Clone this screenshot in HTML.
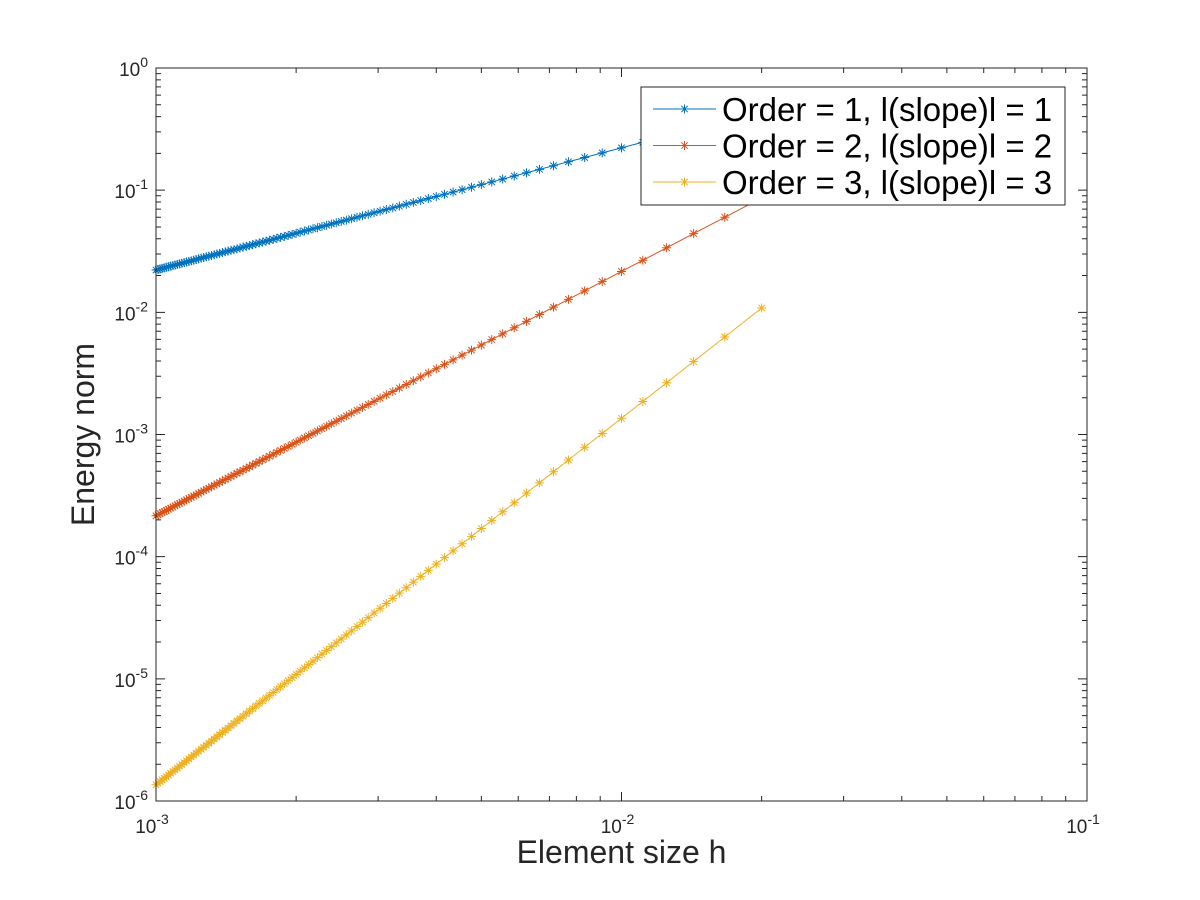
<!DOCTYPE html>
<html><head><meta charset="utf-8"><style>
html,body{margin:0;padding:0;background:#fff;}
svg{display:block;font-family:"Liberation Sans",Arial,sans-serif;}
</style></head><body>
<svg id="chart" width="1200" height="900" viewBox="0 0 1200 900" xmlns="http://www.w3.org/2000/svg">
<rect x="0" y="0" width="1200" height="900" fill="#fff"/>
<g id="marks"></g>
<g id="axes"></g>
<g id="legend"></g>
</svg>
<script>
// number of elements (h = 1/N)
const elements = [50,60,70,80,90,100,110,120,130,140,150,160,170,180,190,200,210,220,230,240,250,260,270,280,290,300,310,320,330,340,350,360,370,380,390,400,410,420,430,440,450,460,470,480,490,500,510,520,530,540,550,560,570,580,590,600,610,620,630,640,650,660,670,680,690,700,710,720,730,740,750,760,770,780,790,800,810,820,830,840,850,860,870,880,890,900,910,920,930,940,950,960,970,980,990,1000];
const order1 = [0.444,0.370,0.317,0.2775,0.2467,0.222,0.2018,0.185,0.1708,0.1586,0.148,0.1388,0.1306,0.1233,0.1168,0.111,0.1057,0.1009,0.0965,0.0925,0.0888,0.0854,0.0822,0.0793,0.0766,0.074,0.0716,0.0694,0.0673,0.0653,0.0634,0.0617,0.06,0.0584,0.0569,0.0555,0.0541,0.0529,0.0516,0.0505,0.0493,0.0483,0.0472,0.0463,0.0453,0.0444,0.0435,0.0427,0.0419,0.0411,0.0404,0.0396,0.0389,0.0383,0.0376,0.037,0.0364,0.0358,0.0352,0.0347,0.0342,0.0336,0.0331,0.0326,0.0322,0.0317,0.0313,0.0308,0.0304,0.03,0.0296,0.0292,0.0288,0.0285,0.0281,0.0278,0.0274,0.0271,0.0267,0.0264,0.0261,0.0258,0.0255,0.0252,0.0249,0.0247,0.0244,0.0241,0.0239,0.0236,0.0234,0.0231,0.0229,0.0227,0.0224,0.0222];
const order2 = [0.0864,0.06,0.0441,0.03375,0.02667,0.0216,0.01785,0.015,0.01278,0.01102,0.0096,0.00844,0.00747,0.00667,0.00598,0.0054,0.0049,0.00446,0.00408,0.00375,0.003456,0.003195,0.002963,0.002755,0.002568,0.0024,0.002248,0.002109,0.001983,0.001869,0.001763,0.001667,0.001578,0.001496,0.00142,0.00135,0.001285,0.001224,0.001168,0.001116,0.001067,0.001021,0.000978,0.0009375,0.0009,0.000864,0.00083,0.000799,0.000769,0.000741,0.000714,0.000689,0.000665,0.000642,0.000621,0.0006,0.00058,0.000562,0.000544,0.000527,0.000511,0.000496,0.000481,0.000467,0.000454,0.000441,0.000428,0.000417,0.000405,0.000394,0.000384,0.000374,0.000364,0.000355,0.000346,0.0003375,0.000329,0.000321,0.000314,0.000306,0.000299,0.000292,0.000285,0.000279,0.000273,0.000267,0.000261,0.000255,0.00025,0.000244,0.000239,0.000234,0.00023,0.000225,0.00022,0.000216];
const order3 = [0.01086,0.006287,0.003959,0.002652,0.001863,0.001358,0.00102,0.000786,0.000618,0.000495,0.000402,0.000332,0.000276,0.000233,0.000198,0.00017,0.0001466,0.0001275,0.0001116,9.82e-5,8.69e-5,7.73e-5,6.9e-5,6.19e-5,5.57e-5,5.03e-5,4.56e-5,4.14e-5,3.78e-5,3.46e-5,3.17e-5,2.91e-5,2.68e-5,2.47e-5,2.29e-5,2.12e-5,1.97e-5,1.833e-5,1.708e-5,1.594e-5,1.49e-5,1.395e-5,1.308e-5,1.228e-5,1.154e-5,1.086e-5,1.024e-5,9.66e-6,9.12e-6,8.62e-6,8.16e-6,7.73e-6,7.33e-6,6.96e-6,6.61e-6,6.29e-6,5.98e-6,5.7e-6,5.43e-6,5.18e-6,4.94e-6,4.72e-6,4.52e-6,4.32e-6,4.13e-6,3.96e-6,3.79e-6,3.64e-6,3.49e-6,3.35e-6,3.22e-6,3.09e-6,2.97e-6,2.86e-6,2.75e-6,2.65e-6,2.56e-6,2.46e-6,2.38e-6,2.29e-6,2.21e-6,2.14e-6,2.06e-6,1.99e-6,1.93e-6,1.86e-6,1.8e-6,1.74e-6,1.69e-6,1.63e-6,1.58e-6,1.53e-6,1.49e-6,1.44e-6,1.4e-6,1.358e-6];
const seriesLabels = ["Order = 1, l(slope)l = 1","Order = 2, l(slope)l = 2","Order = 3, l(slope)l = 3"];
const xTickExps = [-3,-2,-1];
const yTickExps = [-6,-5,-4,-3,-2,-1,0];

const NS="http://www.w3.org/2000/svg";
const L=156,R=1087,T=68,B=801;
const xMin=-3,xMax=-1,yMin=-6,yMax=0;
function xs(v){return L+(Math.log10(v)-xMin)/(xMax-xMin)*(R-L);}
function ys(v){return B-(Math.log10(v)-yMin)/(yMax-yMin)*(B-T);}
function mk(tag,attrs,parent){const e=document.createElementNS(NS,tag);for(const k in attrs)e.setAttribute(k,attrs[k]);parent.appendChild(e);return e;}
const colors=["#0072BD","#D95319","#EDB120"];
const series=[order1,order2,order3];
const marks=document.getElementById('marks');
function star(g,x,y,c){
  const s=4.5,d=3.2;
  const p=mk('path',{d:`M${x-s},${y}H${x+s}M${x},${y-s}V${y+s}M${x-d},${y-d}L${x+d},${y+d}M${x-d},${y+d}L${x+d},${y-d}`,stroke:c,'stroke-width':1,fill:'none'},g);
  
  
}
series.forEach((vals,si)=>{
  const g=mk('g',{},marks);
  
  
  const pts=vals.map((v,i)=>xs(1/elements[i]).toFixed(2)+','+ys(v).toFixed(2)).join(' ');
  const pl=mk('polyline',{points:pts,fill:'none',stroke:colors[si],'stroke-width':1},g);
  
  
  vals.forEach((v,i)=>star(g,xs(1/elements[i]),ys(v),colors[si]));
});
const ax=document.getElementById('axes');
const box=mk('rect',{x:L,y:T,width:R-L,height:B-T,fill:'none',stroke:'#262626','stroke-width':1},ax);


let tk='';
for(let e=xMin;e<xMax;e++)for(let m=1;m<10;m++){const x=xs(m*Math.pow(10,e));const len=m==1?9:5;tk+=`M${x},${B}v${-len}M${x},${T}v${len}`;}
tk+=`M${R},${B}v-9M${R},${T}v9`;
for(let e=yMin;e<yMax;e++)for(let m=1;m<10;m++){const y=ys(m*Math.pow(10,e));const len=m==1?9:5;tk+=`M${L},${y}h${len}M${R},${y}h${-len}`;}
tk+=`M${L},${T}h9M${R},${T}h-9`;
const tp=mk('path',{d:tk,stroke:'#262626','stroke-width':1,fill:'none'},ax);


xTickExps.forEach(e=>{
  const t=mk('text',{x:xs(Math.pow(10,e))-4,y:B+32,'font-size':19,fill:'#262626','text-anchor':'middle'},ax);
  
  
  t.innerHTML=`10<tspan dy="-9" font-size="14">${e}</tspan>`;
});
yTickExps.forEach(e=>{
  const t=mk('text',{x:L-8,y:ys(Math.pow(10,e))+8,'font-size':19,fill:'#262626','text-anchor':'end'},ax);
  
  
  t.innerHTML=`10<tspan dy="-9" font-size="14">${e}</tspan><tspan dy="9" font-size="1"> </tspan>`;
});
const xl=mk('text',{x:(L+R)/2,y:863,'font-size':32,fill:'#262626','text-anchor':'middle'},ax);
xl.textContent='Element size h';


const yl=mk('text',{x:0,y:0,'font-size':32,fill:'#262626','text-anchor':'middle',transform:`translate(94,${(T+B)/2}) rotate(-90)`},ax);
yl.textContent='Energy norm';


const lg=document.getElementById('legend');


const lb=mk('rect',{x:641,y:87,width:424,height:118,fill:'#fff',stroke:'#262626','stroke-width':1},lg);


seriesLabels.forEach((s,i)=>{
  const y=109+i*36.5;
  const g=mk('g',{},lg);
  
  
  mk('line',{x1:653,x2:716,y1:y,y2:y,stroke:colors[i],'stroke-width':1},g);
  star(g,684.5,y,colors[i]);
  const t=mk('text',{x:722,y:y+12,'font-size':33,fill:'#000'},g);
  t.textContent=s;
});
</script>
</body></html>
